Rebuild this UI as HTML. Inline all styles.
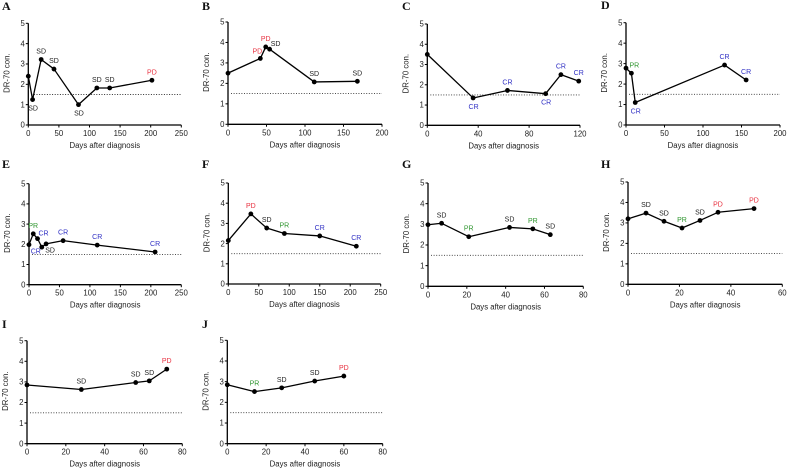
<!DOCTYPE html>
<html lang="en">
<head>
<meta charset="utf-8">
<title>DR-70 concentration after diagnosis</title>
<style>
html,body{margin:0;padding:0;background:#fff;}
#figure{display:block;width:787px;height:470px;font-family:"Liberation Sans",sans-serif;filter:blur(0.25px);}
</style>
</head>
<body>
<svg id="figure" xmlns="http://www.w3.org/2000/svg" width="787" height="470" viewBox="0 0 787 470"></svg>
<script>
// ---- Chart data ----
const yTicks = [0, 1, 2, 3, 4, 5];
const cutoffValue = 1.5;

const xTicksA = [0, 50, 100, 150, 200, 250];
const daysA = [0, 7, 21, 42, 82, 112, 133, 202];
const valuesA = [2.4, 1.25, 3.22, 2.75, 1.0, 1.82, 1.82, 2.2];
const statusA = ['', 'SD', 'SD', 'SD', 'SD', 'SD', 'SD', 'PD'];
const sidesA = ['', 'below', 'above', 'above', 'below', 'above', 'above', 'above'];

const xTicksB = [0, 50, 100, 150, 200];
const daysB = [0, 42, 49, 54, 112, 168];
const valuesB = [2.5, 3.22, 3.78, 3.67, 2.07, 2.1];
const statusB = ['', 'PD', 'PD', 'SD', 'SD', 'SD'];
const sidesB = ['', 'aboveLeft', 'above', 'right', 'above', 'above'];

const xTicksC = [0, 40, 80, 120];
const daysC = [0, 36, 63, 93, 105, 119];
const valuesC = [3.5, 1.35, 1.72, 1.56, 2.5, 2.18];
const statusC = ['', 'CR', 'CR', 'CR', 'CR', 'CR'];
const sidesC = ['', 'below', 'above', 'below', 'above', 'above'];

const xTicksD = [0, 50, 100, 150, 200];
const daysD = [0, 7, 12, 128, 156];
const valuesD = [2.78, 2.53, 1.1, 2.93, 2.2];
const statusD = ['', 'PR', 'CR', 'CR', 'CR'];
const sidesD = ['', 'aboveRight', 'below', 'above', 'above'];

const xTicksE = [0, 50, 100, 150, 200, 250];
const daysE = [0, 7, 14, 21, 28, 56, 112, 207];
const valuesE = [1.98, 2.52, 2.28, 1.86, 2.02, 2.18, 1.96, 1.62];
const statusE = ['', 'PR', 'CR', 'CR', 'SD', 'CR', 'CR', 'CR'];
const sidesE = ['', 'above', 'right', 'belowLeft', 'belowRight', 'above', 'above', 'above'];

const xTicksF = [0, 50, 100, 150, 200, 250];
const daysF = [0, 37, 63, 92, 150, 210];
const valuesF = [2.15, 3.47, 2.77, 2.5, 2.38, 1.87];
const statusF = ['', 'PD', 'SD', 'PR', 'CR', 'CR'];
const sidesF = ['', 'above', 'above', 'above', 'above', 'above'];

const xTicksG = [0, 20, 40, 60, 80];
const daysG = [0, 7, 21, 42, 54, 63];
const valuesG = [2.98, 3.05, 2.4, 2.85, 2.78, 2.5];
const statusG = ['', 'SD', 'PR', 'SD', 'PR', 'SD'];
const sidesG = ['', 'above', 'above', 'above', 'above', 'above'];

const xTicksH = [0, 20, 40, 60];
const daysH = [0, 7, 14, 21, 28, 35, 49];
const valuesH = [3.2, 3.48, 3.08, 2.75, 3.12, 3.52, 3.7];
const statusH = ['', 'SD', 'SD', 'PR', 'SD', 'PD', 'PD'];
const sidesH = ['', 'above', 'above', 'above', 'above', 'above', 'above'];

const xTicksI = [0, 20, 40, 60, 80];
const daysI = [0, 28, 56, 63, 72];
const valuesI = [2.85, 2.63, 2.97, 3.05, 3.62];
const statusI = ['', 'SD', 'SD', 'SD', 'PD'];
const sidesI = ['', 'above', 'above', 'above', 'above'];

const xTicksJ = [0, 20, 40, 60, 80];
const daysJ = [0, 14, 28, 45, 60];
const valuesJ = [2.85, 2.52, 2.7, 3.03, 3.27];
const statusJ = ['', 'PR', 'SD', 'SD', 'PD'];
const sidesJ = ['', 'above', 'above', 'above', 'above'];

// ---- Layout and styling (not data) ----
const panels = [
  {id:'A', x0:28.3,  x1:181.3, y0:125,   y5:23.3,  lx:2,   ly:10,  ticks:xTicksA, days:daysA, values:valuesA, status:statusA, sides:sidesA},
  {id:'B', x0:228,   x1:382,   y0:124.3, y5:22,    lx:202, ly:10,  ticks:xTicksB, days:daysB, values:valuesB, status:statusB, sides:sidesB},
  {id:'C', x0:427.3, x1:580,   y0:125.3, y5:24,    lx:402, ly:10,  ticks:xTicksC, days:daysC, values:valuesC, status:statusC, sides:sidesC},
  {id:'D', x0:626,   x1:780,   y0:125,   y5:22.7,  lx:601, ly:9,   ticks:xTicksD, days:daysD, values:valuesD, status:statusD, sides:sidesD},
  {id:'E', x0:29,    x1:181.3, y0:284.7, y5:183.7, lx:2,   ly:168, ticks:xTicksE, days:daysE, values:valuesE, status:statusE, sides:sidesE},
  {id:'F', x0:228.3, x1:380.7, y0:284,   y5:183,   lx:202, ly:168, ticks:xTicksF, days:daysF, values:valuesF, status:statusF, sides:sidesF},
  {id:'G', x0:428,   x1:583.3, y0:286.3, y5:183,   lx:402, ly:168, ticks:xTicksG, days:daysG, values:valuesG, status:statusG, sides:sidesG},
  {id:'H', x0:628,   x1:782.3, y0:284.3, y5:182,   lx:601, ly:168, ticks:xTicksH, days:daysH, values:valuesH, status:statusH, sides:sidesH},
  {id:'I', x0:27,    x1:182.3, y0:443.7, y5:340.7, lx:2,   ly:328, ticks:xTicksI, days:daysI, values:valuesI, status:statusI, sides:sidesI},
  {id:'J', x0:227.3, x1:382.7, y0:443.7, y5:340.3, lx:202, ly:328, ticks:xTicksJ, days:daysJ, values:valuesJ, status:statusJ, sides:sidesJ}
];
const statusColors = {SD:'#222222', PD:'#e8303f', PR:'#2f962f', CR:'#3030c4'};
const sideOffsets = {
  above:[0,-8.5], below:[0.5,8.5], aboveRight:[3,-8], aboveLeft:[-3,-7.5],
  right:[6,-5.5], belowLeft:[-6,4], belowRight:[4,6.3]
};

const svg = document.getElementById('figure');
const NS = 'http://www.w3.org/2000/svg';
function make(parent, tag, props, content) {
  const el = document.createElementNS(NS, tag);
  for (const k in props) el.setAttribute(k, props[k]);
  if (content !== undefined) el.textContent = content;
  parent.appendChild(el);
  return el;
}

panels.forEach(function (p) {
  const xMax = p.ticks[p.ticks.length - 1];
  const xScale = function (d) { return p.x0 + (d / xMax) * (p.x1 - p.x0); };
  const yScale = function (v) { return p.y0 + (v / 5) * (p.y5 - p.y0); };
  const key = p.id.toLowerCase();

  const g = make(svg, 'g', {});
  
  

  const letter = make(g, 'text', {x:p.lx, y:p.ly, 'font-family':'"Liberation Serif",serif', 'font-weight':'bold', 'font-size':'12', fill:'#111'}, p.id);
  
  

  const yAxis = make(g, 'line', {x1:p.x0, x2:p.x0, y1:p.y0, y2:p.y5, stroke:'#000', 'stroke-width':'1.3'});
  
  

  const xAxis = make(g, 'line', {x1:p.x0, x2:p.x1, y1:p.y0, y2:p.y0, stroke:'#000', 'stroke-width':'1.3'});
  
  

  yTicks.forEach(function (t) {
    const tick = make(g, 'line', {x1:p.x0 - 2.5, x2:p.x0, y1:yScale(t), y2:yScale(t), stroke:'#000', 'stroke-width':'1'});
    
    
    const label = make(g, 'text', {x:p.x0 - 3.5, y:yScale(t) + 2.7, 'text-anchor':'end', 'font-size':'7.8', fill:'#222'}, String(t));
    
    
  });

  p.ticks.forEach(function (t) {
    const tick = make(g, 'line', {x1:xScale(t), x2:xScale(t), y1:p.y0, y2:p.y0 + 2.5, stroke:'#000', 'stroke-width':'1'});
    
    
    const label = make(g, 'text', {x:xScale(t), y:p.y0 + 11, 'text-anchor':'middle', 'font-size':'7.8', fill:'#222'}, String(t));
    
    
  });

  const xTitle = make(g, 'text', {x:(p.x0 + p.x1) / 2, y:p.y0 + 23, 'text-anchor':'middle', 'font-size':'7.8', fill:'#222'}, 'Days after diagnosis');
  
  

  const ty = (p.y0 + p.y5) / 2 - 1;
  const tx = p.x0 - 19;
  const yTitle = make(g, 'text', {x:tx, y:ty, transform:'rotate(-90 ' + tx + ' ' + ty + ')', 'text-anchor':'middle', 'font-size':'7.8', fill:'#222'}, 'DR-70 con.');
  
  

  const cutoff = make(g, 'line', {x1:p.x0 + 3, x2:p.x1, y1:yScale(cutoffValue), y2:yScale(cutoffValue), stroke:'#333', 'stroke-width':'0.9', 'stroke-dasharray':'1 1.6'});
  
  

  const pts = p.days.map(function (d, i) { return xScale(d).toFixed(2) + ',' + yScale(p.values[i]).toFixed(2); }).join(' ');
  const series = make(g, 'polyline', {points:pts, fill:'none', stroke:'#000', 'stroke-width':'1.3', 'stroke-linejoin':'round'});
  
  

  p.days.forEach(function (d, i) {
    const cx = xScale(d);
    const cy = yScale(p.values[i]);
    const point = make(g, 'circle', {cx:cx, cy:cy, r:'2.4', fill:'#000'});
    
    
    if (p.status[i]) {
      const off = sideOffsets[p.sides[i]];
      const label = make(g, 'text', {x:cx + off[0], y:cy + off[1] + 2.5, 'text-anchor':'middle', 'font-size':'7', fill:statusColors[p.status[i]]}, p.status[i]);
      
      
    }
  });
});
</script>
</body>
</html>
